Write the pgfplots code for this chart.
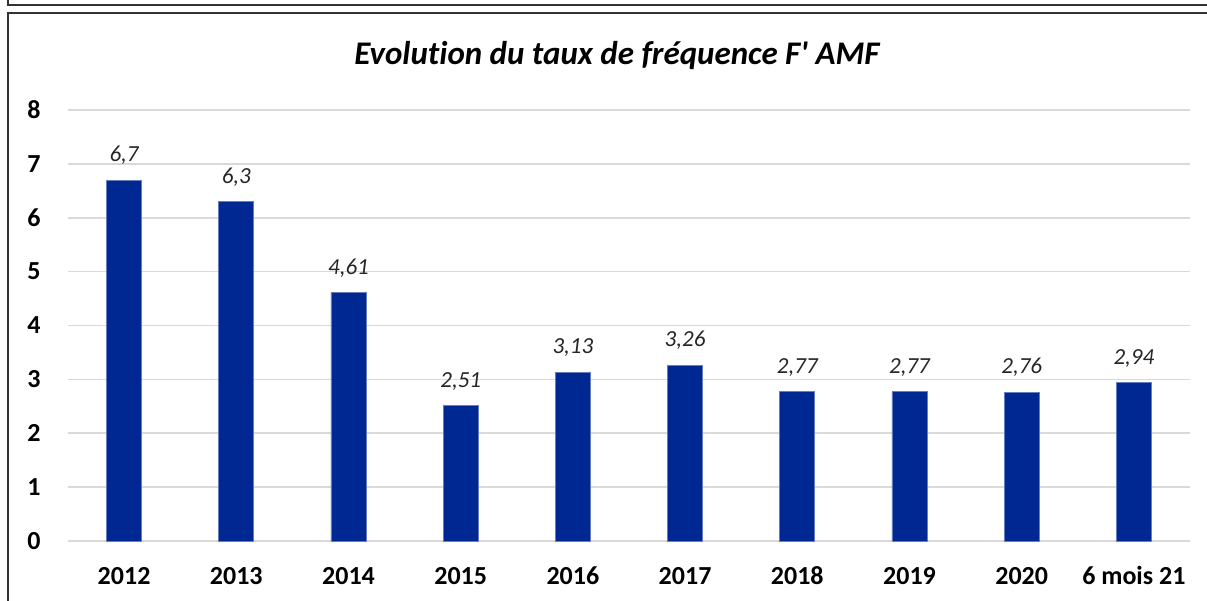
\documentclass[border=0pt]{standalone}
\usepackage{pgfplots}
\pgfplotsset{compat=1.18}
\usepackage{fontspec}
\setmainfont{Carlito}
\newfontfamily\cf{Carlito}[RawFeature=-liga]
\definecolor{barblue}{RGB}{0,40,146}
\definecolor{gridgray}{RGB}{217,217,217}
\begin{document}
\begin{tikzpicture}[x=1pt,y=1pt]
\path[use as bounding box] (0,0) rectangle (1207,601);
\draw[line width=1.5pt,black!80] (8,601) -- (8,596) -- (1207,596);
\draw[line width=1.5pt,black!80] (8,0) -- (8,588) -- (1207,588);
\node[font=\cf\fontsize{33}{38}\selectfont\bfseries\itshape, anchor=base] at (617,536) {Evolution du taux de fréquence F' AMF};
\begin{axis}[
  at={(68pt,60pt)}, anchor=south west,
  scale only axis, width=1122pt, height=431pt,
  xmin=-0.5, xmax=9.5, ymin=0, ymax=8,
  axis line style={draw=none},
  ytick={0,1,...,8},
  xtick=data,
  xticklabels={2012,2013,2014,2015,2016,2017,2018,2019,2020,6 mois 21},
  major tick length=0pt,
  ymajorgrids, grid style={gridgray,line width=1.6pt},
  tick label style={font=\cf\fontsize{26}{30}\selectfont\bfseries},
  /pgf/number format/assume math mode=true,
  yticklabel style={xshift=-24pt},
  xticklabel style={yshift=-44pt, anchor=base, text depth=0pt},
  nodes near coords,
  point meta=explicit symbolic,
  every node near coord/.append style={font=\cf\fontsize{23}{27}\selectfont\itshape, yshift=12pt, black!85},
  clip=false,
]
\addplot[ybar, bar width=35pt, fill=barblue, draw=barblue!60!white, line width=0.6pt] table[meta=lab] {
x y lab
0 6.70 6,7
1 6.30 6,3
2 4.61 4,61
3 2.51 2,51
4 3.13 3,13
5 3.26 3,26
6 2.77 2,77
7 2.77 2,77
8 2.76 2,76
9 2.94 2,94
};
\end{axis}
\end{tikzpicture}
\end{document}
